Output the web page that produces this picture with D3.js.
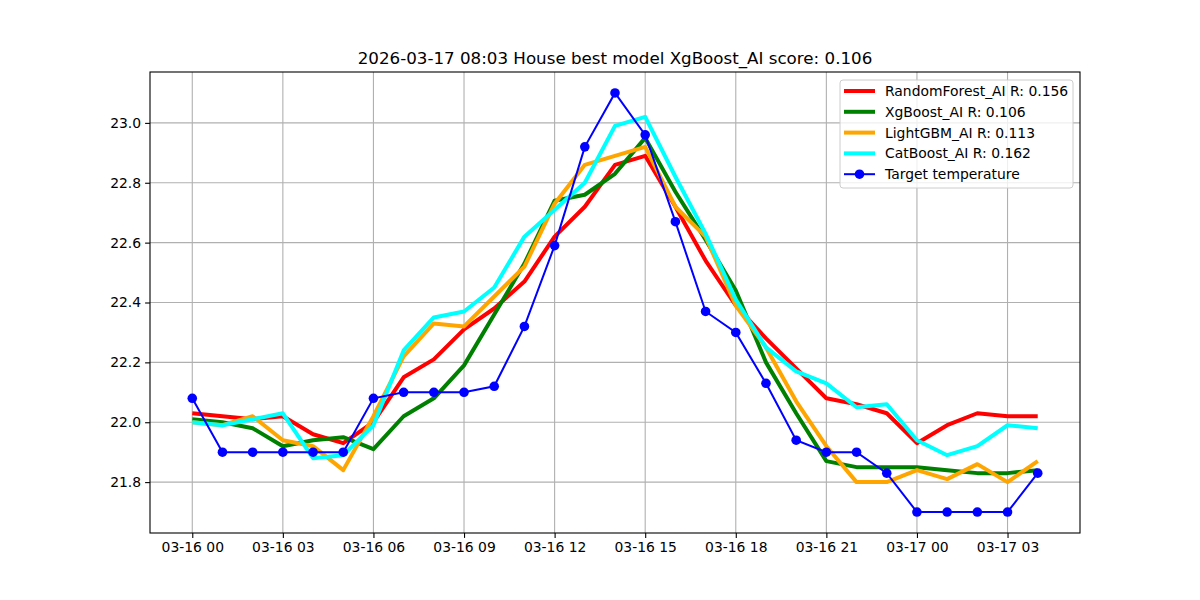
<!DOCTYPE html>
<html>
<head>
<meta charset="utf-8">
<script src="https://cdn.jsdelivr.net/npm/d3@7"></script>
<style>
  body { margin: 0; background: #fff; }
  svg { font-family: "DejaVu Sans", sans-serif; }
  .tick text { font-size: 13.9px; fill: #000; }
  .grid line { stroke: #b0b0b0; stroke-width: 1.1; }
</style>
</head>
<body>
<div id="chart"></div>
<script>
const title = "2026-03-17 08:03 House best model XgBoost_AI score: 0.106"

// hourly timestamps, 03-16 00:00 .. 03-17 04:00
const startTime = "2026-03-16T00:00:00"
const hours = 29

const randomForest = [22.03, 22.02, 22.01, 22.02, 21.96, 21.93, 22.00, 22.15, 22.21, 22.31,
  22.38, 22.47, 22.62, 22.72, 22.86, 22.89, 22.72, 22.54, 22.39, 22.28,
  22.18, 22.08, 22.06, 22.03, 21.93, 21.99, 22.03, 22.02, 22.02]
const xgBoost = [22.01, 22.00, 21.98, 21.92, 21.94, 21.95, 21.91, 22.02, 22.08, 22.19,
  22.36, 22.53, 22.74, 22.76, 22.83, 22.95, 22.77, 22.61, 22.44, 22.20,
  22.03, 21.87, 21.85, 21.85, 21.85, 21.84, 21.83, 21.83, 21.84]
const lightGBM = [22.00, 21.99, 22.02, 21.94, 21.92, 21.84, 22.02, 22.22, 22.33, 22.32,
  22.42, 22.52, 22.73, 22.86, 22.89, 22.92, 22.72, 22.62, 22.39, 22.25,
  22.07, 21.92, 21.80, 21.80, 21.84, 21.81, 21.86, 21.80, 21.87]
const catBoost = [22.00, 21.99, 22.01, 22.03, 21.88, 21.89, 21.99, 22.24, 22.35, 22.37,
  22.45, 22.62, 22.71, 22.80, 22.99, 23.02, 22.82, 22.63, 22.41, 22.25,
  22.17, 22.13, 22.05, 22.06, 21.94, 21.89, 21.92, 21.99, 21.98]
const target = [22.08, 21.90, 21.90, 21.90, 21.90, 21.90, 22.08, 22.10, 22.10, 22.10,
  22.12, 22.32, 22.59, 22.92, 23.10, 22.96, 22.67, 22.37, 22.30, 22.13,
  21.94, 21.90, 21.90, 21.83, 21.70, 21.70, 21.70, 21.70, 21.83]

const modelNames = ["RandomForest_AI R: 0.156", "XgBoost_AI R: 0.106", "LightGBM_AI R: 0.113", "CatBoost_AI R: 0.162"]
const modelColors = ["red", "green", "orange", "cyan"]
const modelValues = [randomForest, xgBoost, lightGBM, catBoost]
const targetName = "Target temperature"

const W = 1200, H = 600
const margin = {top: 72, right: 120, bottom: 67, left: 150}
const w = W - margin.left - margin.right,
  h = H - margin.top - margin.bottom

const t0 = new Date(startTime)
const times = d3.range(hours).map(i => d3.timeHour.offset(t0, i))

const svg = d3.select("#chart").append("svg")
  .attr("width", W)
  .attr("height", H)

const g = svg.append("g")
  .attr("transform", `translate(${margin.left},${margin.top})`)

// matplotlib style 5% margins
const xPad = 1.4 * 3600 * 1000
const x = d3.scaleTime()
  .domain([+times[0] - xPad, +times[times.length - 1] + xPad])
  .range([0, w])

const allVals = modelValues.flat().concat(target)
const yMin = d3.min(allVals), yMax = d3.max(allVals)
const yPad = (yMax - yMin) * 0.05
const y = d3.scaleLinear()
  .domain([yMin - yPad, yMax + yPad])
  .range([h, 0])

const xTicks = times.filter(t => t.getHours() % 3 === 0)
const yTicks = [21.8, 22.0, 22.2, 22.4, 22.6, 22.8, 23.0]

// grid
g.append("g").attr("class", "grid")
  .selectAll("line").data(xTicks).enter().append("line")
  .attr("x1", d => x(d)).attr("x2", d => x(d))
  .attr("y1", 0).attr("y2", h)
g.append("g").attr("class", "grid")
  .selectAll("line").data(yTicks).enter().append("line")
  .attr("x1", 0).attr("x2", w)
  .attr("y1", d => y(d)).attr("y2", d => y(d))

// axes
const xAxis = g.append("g")
  .attr("transform", `translate(0,${h})`)
  .call(d3.axisBottom(x).tickValues(xTicks).tickFormat(d3.timeFormat("%m-%d %H")).tickSize(4.9).tickPadding(4))
const yAxis = g.append("g")
  .call(d3.axisLeft(y).tickValues(yTicks).tickFormat(d3.format(".1f")).tickSize(4.9).tickPadding(4))
xAxis.select(".domain").remove()
yAxis.select(".domain").remove()
svg.selectAll(".tick line").attr("stroke", "#000").attr("stroke-width", 1.1)
svg.selectAll(".tick text").attr("font-family", "DejaVu Sans")

const line = d3.line()
  .x((d, i) => x(times[i]))
  .y(d => y(d))

modelValues.forEach(function(vals, k) {
  g.append("path")
    .datum(vals)
    .attr("fill", "none")
    .attr("stroke", modelColors[k])
    .attr("stroke-width", 4)
    .attr("stroke-linejoin", "round")
    .attr("d", line)
})

g.append("path")
  .datum(target)
  .attr("fill", "none")
  .attr("stroke", "blue")
  .attr("stroke-width", 2)
  .attr("d", line)
g.append("g").selectAll("circle")
  .data(target).enter().append("circle")
  .attr("cx", (d, i) => x(times[i]))
  .attr("cy", d => y(d))
  .attr("r", 4.8)
  .attr("fill", "blue")

// frame
g.append("rect")
  .attr("width", w).attr("height", h)
  .attr("fill", "none").attr("stroke", "#000").attr("stroke-width", 1.1)

// title
svg.append("text")
  .attr("x", margin.left + w / 2)
  .attr("y", 64)
  .attr("text-anchor", "middle")
  .attr("font-size", 16.7)
  .text(title)

// legend
const legend = g.append("g")
  .attr("transform", `translate(${w - 240},${8})`)
legend.append("rect")
  .attr("width", 233).attr("height", 108)
  .attr("rx", 3)
  .attr("fill", "#fff").attr("fill-opacity", 0.8)
  .attr("stroke", "#ccc")

const entries = modelNames.map((n, k) => ({name: n, color: modelColors[k], marker: false}))
entries.push({name: targetName, color: "blue", marker: true})

entries.forEach(function(e, i) {
  const ey = 11 + i * 20.8
  legend.append("line")
    .attr("x1", 4).attr("x2", 35)
    .attr("y1", ey).attr("y2", ey)
    .attr("stroke", e.color)
    .attr("stroke-width", e.marker ? 2 : 4)
  if (e.marker) {
    legend.append("circle")
      .attr("cx", 19.5).attr("cy", ey).attr("r", 4.8).attr("fill", "blue")
  }
  legend.append("text")
    .attr("x", 45).attr("y", ey + 5)
    .attr("font-size", 13.9)
    .text(e.name)
})
</script>
</body>
</html>
